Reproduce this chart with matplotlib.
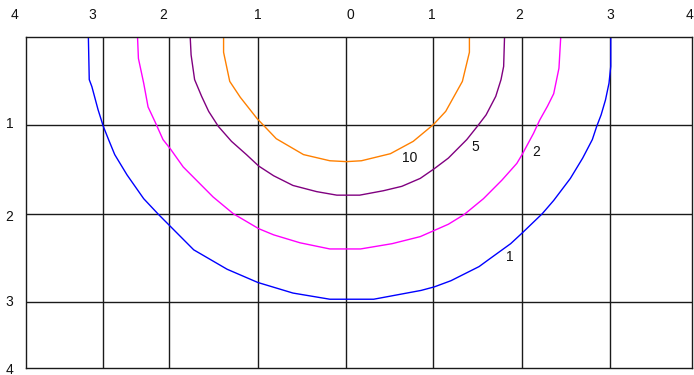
import matplotlib
matplotlib.use("Agg")
import matplotlib.pyplot as plt

plt.rcParams['font.family'] = ['Liberation Sans', 'DejaVu Sans']

# grid lines (x at irregular spots, y at whole depths)
grid_x = [-2.77, -2.02, -1.01, 0.0, 0.99, 2.0, 3.0]
grid_y = [1.0, 2.0, 3.0]

# tick labels, drawn as free text
top_pos = [-3.78, -2.89, -2.09, -1.01, 0.04, 0.97, 1.97, 3.0, 3.91]
top_labels = ['4', '3', '2', '1', '0', '1', '2', '3', '4']
left_pos = [0.98, 2.04, 3.0, 3.77]
left_labels = ['1', '2', '3', '4']

# contour curves
c10_x = [-1.40, -1.40, -1.33, -1.21, -1.02, -0.80, -0.49, -0.19, 0.0, 0.17, 0.50,
         0.76, 0.99, 1.13, 1.32, 1.40, 1.40]
c10_y = [0.0, 0.17, 0.50, 0.68, 0.92, 1.15, 1.33, 1.40, 1.41, 1.40, 1.32,
         1.18, 0.99, 0.84, 0.50, 0.17, 0.0]

c5_x = [-1.78, -1.77, -1.73, -1.65, -1.57, -1.46, -1.31, -1.14, -1.0, -0.83, -0.61,
        -0.34, -0.11, 0.0, 0.15, 0.42, 0.63, 0.84, 1.0, 1.16, 1.37, 1.49, 1.59,
        1.70, 1.76, 1.79, 1.80]
c5_y = [0.0, 0.20, 0.48, 0.67, 0.84, 1.01, 1.18, 1.33, 1.46, 1.57, 1.68,
        1.75, 1.79, 1.79, 1.79, 1.74, 1.69, 1.60, 1.49, 1.37, 1.16, 1.01, 0.88,
        0.67, 0.48, 0.33, 0.0]

c2_x = [-2.38, -2.37, -2.31, -2.26, -2.18, -2.09, -2.01, -1.86, -1.71, -1.52, -1.29,
        -1.0, -0.83, -0.53, -0.19, 0.0, 0.16, 0.52, 0.84, 1.0, 1.16, 1.34, 1.56,
        1.77, 1.94, 2.0, 2.13, 2.20, 2.29, 2.36, 2.42, 2.44]
c2_y = [0.0, 0.24, 0.52, 0.79, 0.96, 1.16, 1.26, 1.47, 1.62, 1.81, 2.0,
        2.17, 2.24, 2.33, 2.40, 2.40, 2.40, 2.34, 2.26, 2.19, 2.12, 2.01, 1.83,
        1.62, 1.43, 1.33, 1.09, 0.94, 0.78, 0.64, 0.35, 0.0]

c1_x = [-2.94, -2.93, -2.90, -2.83, -2.77, -2.71, -2.64, -2.50, -2.31, -2.14, -2.01,
        -1.74, -1.36, -1.01, -0.61, -0.19, 0.0, 0.31, 0.85, 1.0, 1.19, 1.51, 1.62,
        1.87, 2.0, 2.23, 2.36, 2.55, 2.69, 2.80, 2.85, 2.90, 2.95, 2.99, 3.01, 3.01]
c1_y = [0.0, 0.48, 0.56, 0.82, 1.01, 1.16, 1.33, 1.56, 1.83, 2.01, 2.14,
        2.41, 2.63, 2.78, 2.90, 2.97, 2.97, 2.97, 2.87, 2.83, 2.76, 2.60, 2.52,
        2.34, 2.22, 2.0, 1.85, 1.60, 1.37, 1.16, 1.01, 0.88, 0.71, 0.52, 0.33, 0.0]

curve_labels = ['10', '5', '2', '1']
label_x = [0.72, 1.47, 2.16, 1.86]
label_y = [1.37, 1.24, 1.30, 2.49]

fig = plt.figure(figsize=(6.94, 3.75), dpi=100)
ax = fig.add_axes([0.0379, 0.0179, 0.9588, 0.8827])
ax.set_xlim(-3.647, 3.932)
ax.set_ylim(3.753, 0)

for gx in grid_x:
    ax.axvline(gx, color='#1a1a1a', lw=1.0, zorder=1)
for gy in grid_y:
    ax.axhline(gy, color='#1a1a1a', lw=1.0, zorder=1)

ax.plot(c1_x, c1_y, color='#0000ff', lw=1.0, zorder=2)
ax.plot(c2_x, c2_y, color='#ff00ff', lw=1.0, zorder=2)
ax.plot(c5_x, c5_y, color='#800080', lw=1.0, zorder=2)
ax.plot(c10_x, c10_y, color='#ff8000', lw=1.0, zorder=2)

for t, x, y in zip(curve_labels, label_x, label_y):
    ax.text(x, y, t, fontsize=10, ha='center', va='center', color='#111111')

for p, t in zip(top_pos, top_labels):
    ax.text(p, -0.25, t, fontsize=10, ha='center', va='center',
            color='#111111', clip_on=False)
for p, t in zip(left_pos, left_labels):
    ax.text(-3.84, p, t, fontsize=10, ha='center', va='center',
            color='#111111', clip_on=False)

ax.set_xticks([])
ax.set_yticks([])
for s in ax.spines.values():
    s.set_color('#1a1a1a')
    s.set_linewidth(1.0)

fig.savefig('out.png', dpi=100)
